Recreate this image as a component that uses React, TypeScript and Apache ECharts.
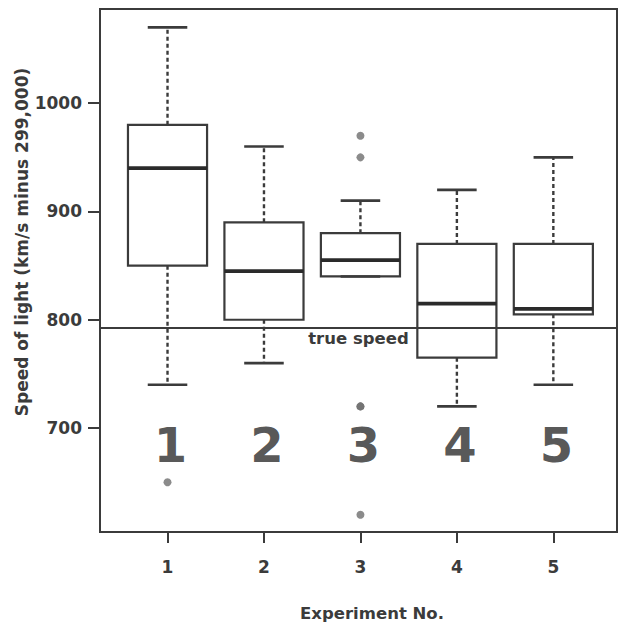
import React, { useEffect, useRef } from 'react';
import * as echarts from 'echarts';

// ---- data ----
const experiments = ['1', '2', '3', '4', '5'];
const experimentX = [1, 2, 3, 4, 5];
const whiskerLow = [740, 760, 840, 720, 740];
const q1 = [850, 800, 840, 765, 805];
const median = [940, 845, 855, 815, 810];
const q3 = [980, 890, 880, 870, 870];
const whiskerHigh = [1070, 960, 910, 920, 950];
const outlierX = [1, 3, 3, 3, 3, 3];
const outlierY = [650, 620, 720, 720, 950, 970];
const trueSpeed = 792.458;
const yTicks = [700, 800, 900, 1000];
const yTickLabels = ['700', '800', '900', '1000'];
const xTicks = [1, 2, 3, 4, 5];

const INK = '#3b3b3b';
const FONT = 'DejaVu Sans';

export default function App() {
  const ref = useRef<HTMLDivElement>(null);

  useEffect(() => {
    const chart = echarts.init(ref.current!, null, { renderer: 'svg' });
    const boxData = experimentX.map((x, i) => [x, whiskerLow[i], q1[i], median[i], q3[i], whiskerHigh[i]]);
    const outlierData = outlierX.map((x, i) => [x, outlierY[i]]);
    const numberLabelY = 684;
    const bigNumbers = experimentX.map((x) => [x, numberLabelY]);

    const option: any = {
      animation: false,
      backgroundColor: '#ffffff',
      grid: {
        left: 100, right: 4, top: 9, bottom: 99,
        show: true, borderColor: INK, borderWidth: 2, backgroundColor: 'transparent',
      },
      xAxis: {
        type: 'value', min: 0.3, max: 5.66,
        axisLine: { show: false },
        splitLine: { show: false },
        axisTick: { show: true, length: 11, lineStyle: { color: INK, width: 2 }, customValues: xTicks },
        axisLabel: {
          customValues: xTicks,
          formatter: (v: number) => experiments[xTicks.indexOf(v)] ?? '',
          margin: 26, fontSize: 17, fontWeight: 'bold', color: INK, fontFamily: FONT,
        },
      },
      yAxis: {
        type: 'value', min: 604, max: 1087,
        axisLine: { show: false },
        splitLine: { show: false },
        axisTick: { show: true, length: 12, lineStyle: { color: INK, width: 2 }, customValues: yTicks },
        axisLabel: {
          customValues: yTicks,
          formatter: (v: number) => yTickLabels[yTicks.indexOf(v)] ?? '',
          margin: 18, fontSize: 17, fontWeight: 'bold', color: INK, fontFamily: FONT,
        },
      },
      series: [
        {
          type: 'custom',
          data: boxData,
          encode: { x: 0, y: [1, 2, 3, 4, 5] },
          z: 2,
          renderItem: (params: any, api: any) => {
            const x = api.value(0);
            const boxW = api.size([0.82, 0])[0];
            const capW = api.size([0.41, 0])[0];
            const pLow = api.coord([x, api.value(1)]);
            const pQ1 = api.coord([x, api.value(2)]);
            const pMed = api.coord([x, api.value(3)]);
            const pQ3 = api.coord([x, api.value(4)]);
            const pHigh = api.coord([x, api.value(5)]);
            const cx = pQ1[0];
            const whisk = { stroke: INK, lineWidth: 2.4, lineDash: [4, 3] };
            const solid = { stroke: INK, lineWidth: 2.6 };
            const children: any[] = [];
            if (pHigh[1] < pQ3[1]) {
              children.push({ type: 'line', shape: { x1: cx, y1: pQ3[1], x2: cx, y2: pHigh[1] }, style: whisk });
            }
            if (pLow[1] > pQ1[1]) {
              children.push({ type: 'line', shape: { x1: cx, y1: pQ1[1], x2: cx, y2: pLow[1] }, style: whisk });
            }
            children.push({ type: 'line', shape: { x1: cx - capW / 2, y1: pHigh[1], x2: cx + capW / 2, y2: pHigh[1] }, style: solid });
            children.push({ type: 'line', shape: { x1: cx - capW / 2, y1: pLow[1], x2: cx + capW / 2, y2: pLow[1] }, style: solid });
            children.push({
              type: 'rect',
              shape: { x: cx - boxW / 2, y: pQ3[1], width: boxW, height: pQ1[1] - pQ3[1] },
              style: { fill: 'transparent', stroke: INK, lineWidth: 2.2 },
            });
            children.push({
              type: 'line',
              shape: { x1: cx - boxW / 2, y1: pMed[1], x2: cx + boxW / 2, y2: pMed[1] },
              style: { stroke: '#2a2a2a', lineWidth: 3.8 },
            });
            return { type: 'group', children };
          },
        },
        {
          type: 'scatter',
          data: outlierData,
          symbol: 'circle',
          symbolSize: 8,
          itemStyle: { color: '#6e6e6e' },
          z: 3,
          markLine: {
            silent: true,
            symbol: 'none',
            data: [{ yAxis: trueSpeed }],
            lineStyle: { color: INK, width: 2, type: 'solid' },
            label: {
              show: true,
              position: 'insideMiddleBottom',
              formatter: 'true speed',
              fontSize: 16.5, fontWeight: 'bold', color: INK, fontFamily: FONT,
              distance: 2,
            },
          },
        },
        {
          type: 'scatter',
          data: bigNumbers,
          symbol: 'circle',
          symbolSize: 0,
          z: 4,
          label: {
            show: true,
            position: 'inside',
            offset: [3, 0],
            formatter: (p: any) => experiments[p.dataIndex],
            fontSize: 48, fontWeight: 'bold', color: '#2b2b2b', fontFamily: FONT,
          },
        },
      ],
      graphic: [
        {
          type: 'text', x: 22, y: 242, rotation: Math.PI / 2,
          style: {
            text: 'Speed of light (km/s minus 299,000)',
            fontSize: 17, fontWeight: 'bold', fontFamily: FONT, fill: INK,
            align: 'center', verticalAlign: 'middle',
          },
        },
        {
          type: 'text', x: 372, y: 613,
          style: {
            text: 'Experiment No.',
            fontSize: 16.5, fontWeight: 'bold', fontFamily: FONT, fill: INK,
            align: 'center', verticalAlign: 'middle',
          },
        },
      ],
    };
    chart.setOption(option);
    return () => chart.dispose();
  }, []);

  return (
    <div
      ref={ref}
      style={{ position: 'absolute', left: 0, top: 0, width: 621, height: 631, background: '#fff' }}
    />
  );
}
